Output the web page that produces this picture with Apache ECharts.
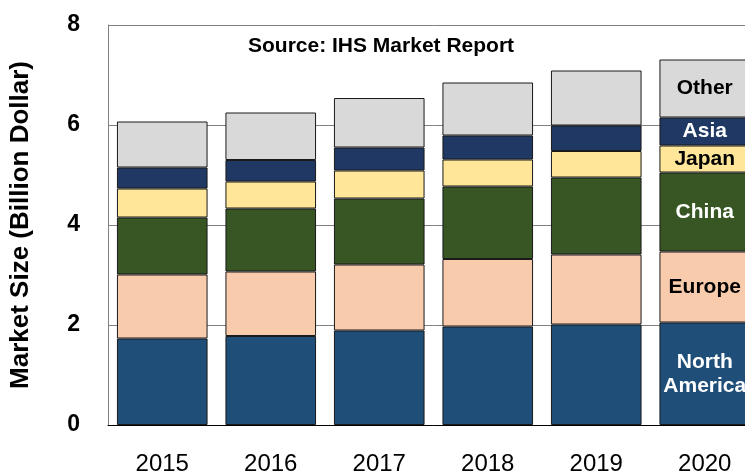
<!DOCTYPE html>
<html>
<head>
<meta charset="utf-8">
<script src="https://cdn.jsdelivr.net/npm/echarts@6/dist/echarts.min.js"></script>
<style>
  html, body { margin: 0; padding: 0; background: #fff; overflow: hidden; }
  /* 图表比窗口略宽，最右侧柱子被裁掉一截 */
  #chart { width: 760px; height: 476px; }
</style>
</head>
<body>
<div id="chart"></div>
<script>
// 年份
const years = ['2015', '2016', '2017', '2018', '2019', '2020']
// 各地区市场规模（十亿美元）
const northAmerica = [1.73, 1.78, 1.89, 1.97, 2.01, 2.05]
const europe = [1.28, 1.29, 1.32, 1.35, 1.40, 1.42]
const china = [1.14, 1.26, 1.32, 1.45, 1.54, 1.58]
const japan = [0.58, 0.54, 0.56, 0.54, 0.53, 0.54]
const asia = [0.42, 0.43, 0.46, 0.48, 0.51, 0.56]
const other = [0.92, 0.95, 0.99, 1.06, 1.10, 1.16]
const yTicks = [0, 8, 2]

const font = 'Liberation Sans, Arial, sans-serif'

// 每个系列：名称、数据、颜色、标签颜色
const seriesDefs = [
  { name: 'North\nAmerica', data: northAmerica, color: '#1F4E79', label: '#ffffff' },
  { name: 'Europe', data: europe, color: '#F8CBAD', label: '#000000' },
  { name: 'China', data: china, color: '#375623', label: '#ffffff' },
  { name: 'Japan', data: japan, color: '#FFE699', label: '#000000' },
  { name: 'Asia', data: asia, color: '#203864', label: '#ffffff' },
  { name: 'Other', data: other, color: '#D9D9D9', label: '#000000' },
]

const last = years.length - 1

const chart = echarts.init(document.getElementById('chart'))
chart.setOption({
  animation: false,
  grid: { left: 106, right: 1, top: 25, bottom: 51 },
  graphic: [
    {
      type: 'text',
      left: 248,
      top: 36,
      style: { text: 'Source: IHS Market Report', font: 'bold 21px ' + font, fill: '#000' },
    },
  ],
  xAxis: {
    type: 'category',
    data: years,
    axisTick: { show: false },
    axisLine: { lineStyle: { color: '#000', width: 1 } },
    axisLabel: { color: '#000', fontSize: 24, fontFamily: font, margin: 27 },
  },
  yAxis: {
    type: 'value',
    min: yTicks[0],
    max: yTicks[1],
    interval: yTicks[2],
    name: 'Market Size (Billion Dollar)',
    nameLocation: 'middle',
    nameGap: 74,
    nameTextStyle: { color: '#000', fontSize: 26, fontWeight: 'bold', fontFamily: font },
    axisLine: { show: true, lineStyle: { color: '#808080' } },
    axisTick: { show: false },
    splitLine: { lineStyle: { color: '#808080', width: 1 } },
    axisLabel: { color: '#000', fontSize: 23, fontWeight: 'bold', fontFamily: font, margin: 28 },
  },
  series: seriesDefs.map(s => ({
    name: s.name,
    type: 'bar',
    stack: 'total',
    barCategoryGap: '16.5%',
    itemStyle: { color: s.color, borderColor: '#1a1a1a', borderWidth: 1 },
    data: s.data.map((v, i) => ({
      value: v,
      label: {
        show: i === last,
        formatter: s.name,
        color: s.label,
        fontSize: 21,
        fontWeight: 'bold',
        fontFamily: font,
        lineHeight: 24,
      },
    })),
  })),
})

window.addEventListener('resize', function () {
  chart.resize()
})
</script>
</body>
</html>
